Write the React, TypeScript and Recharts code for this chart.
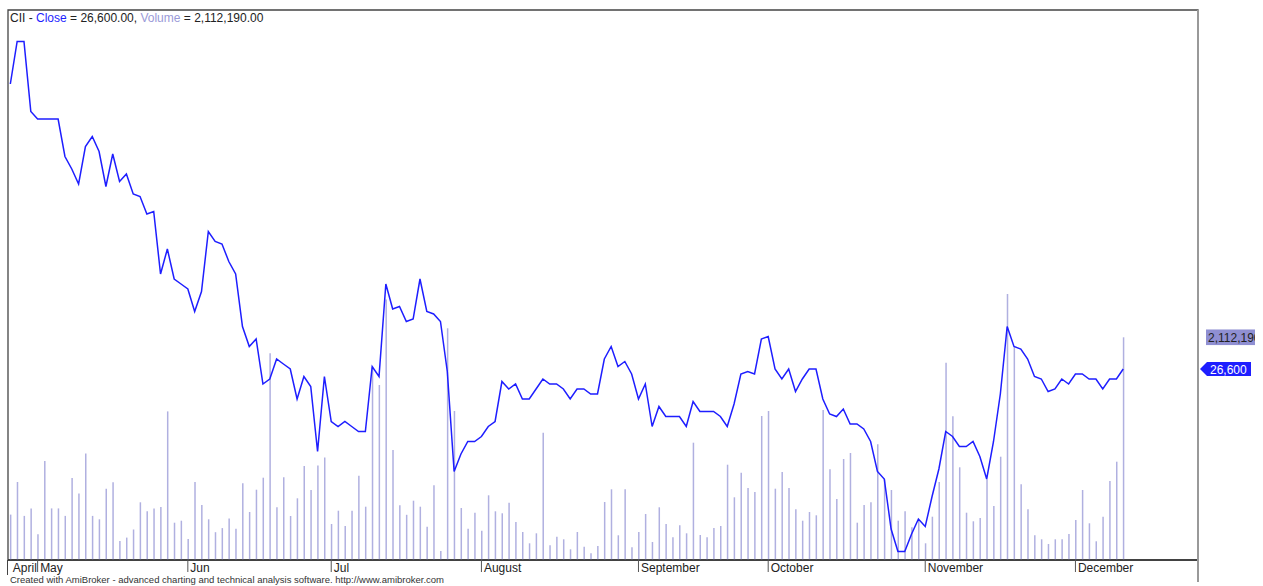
import React from 'react';
import { ComposedChart, Bar, Line, XAxis, YAxis, ReferenceArea, ReferenceDot } from 'recharts';

// daily closes (VND), April -> December
const closes = [
  38000, 39700, 39700, 36900, 36600, 36600, 36600, 36600, 35100, 34600,
  34000, 35500, 35900, 35300, 33900, 35200, 34100, 34400, 33600, 33500,
  32800, 32900, 30400, 31400, 30200, 30000, 29800, 28900, 29700, 32100,
  31700, 31600, 30900, 30400, 28300, 27500, 27800, 26000, 26200, 27000,
  26800, 26600, 25400, 26300, 25900, 23300, 26300, 24500, 24300, 24500,
  24300, 24100, 24100, 26700, 26300, 30000, 29000, 29100, 28500, 28600,
  30200, 28900, 28800, 28500, 26500, 22500, 23200, 23700, 23700, 23900,
  24300, 24500, 26100, 25800, 26000, 25400, 25400, 25800, 26200, 26000,
  26000, 25800, 25400, 25800, 25800, 25600, 25600, 27000, 27500, 26700,
  26900, 26400, 25400, 26000, 24300, 25100, 24700, 24700, 24700, 24300,
  25300, 24900, 24900, 24900, 24700, 24300, 25200, 26400, 26500, 26400,
  27800, 27900, 26600, 26200, 26600, 25700, 26200, 26600, 26600, 25400,
  24800, 24700, 25000, 24400, 24400, 24200, 23700, 22500, 22200, 20200,
  19300, 19300, 20000, 20600, 20300, 21500, 22600, 24100, 23900, 23500,
  23500, 23700, 23100, 22200, 23700, 25600, 28300, 27500, 27400, 27000,
  26300, 26200, 25700, 25800, 26200, 26000, 26400, 26400, 26200, 26200,
  25800, 26200, 26200, 26600,
];

const volumes = [
  430600, 739800, 418300, 489400, 244700, 940000, 489400, 489400, 418300, 778700,
  630800, 1010200, 418300, 386000, 675300, 737000, 180200, 212500, 289300, 547300,
  462900, 489400, 501800, 1409500, 353800, 372800, 199200, 739800, 520700, 386000,
  263700, 302600, 392700, 296900, 727500, 455300, 666800, 780600, 1960500, 499900,
  785400, 417300, 585200, 891600, 664000, 896300, 972200, 341500, 467600, 322500,
  467600, 799600, 505600, 1833500, 1659900, 2470000, 1043400, 518800, 428700, 562500,
  505600, 315900, 709500, 85400, 2197700, 1413300, 493200, 296900, 448600, 277900,
  613700, 461900, 443000, 543500, 360400, 265600, 158400, 253200, 1207400, 139400,
  221000, 196300, 101500, 265600, 126200, 63500, 132800, 550100, 670600, 234300,
  670600, 120500, 265600, 436300, 170700, 499900, 341500, 215300, 329100, 253200,
  1112600, 237100, 215300, 303500, 322500, 903900, 594700, 828000, 682900, 645000,
  1365800, 1413300, 676300, 834700, 682900, 480900, 372800, 455300, 424000, 1422800,
  860300, 578600, 958000, 1014900, 353800, 521700, 547300, 1097400, 765400, 664000,
  372800, 461900, 310200, 379400, 158400, 410700, 739800, 1871400, 1363000, 879300,
  448600, 367100, 398400, 765400, 512200, 979800, 2523000, 2023100, 718000, 480900,
  234300, 196300, 151800, 196300, 196300, 246600, 379400, 664000, 348100, 177400,
  410700, 749300, 932400, 2112190,
];

// first trading day of each month (bar index) and its label
const monthStarts = [0, 4, 26, 47, 69, 92, 111, 134, 156];
const monthLabels = ['April', 'May', 'Jun', 'Jul', 'August', 'September', 'October', 'November', 'December'];

const X_MIN = -0.34;
const X_MAX = 173.95;
const P_MIN = 18960;
const P_MAX = 40960;
const V_MAX = 5216400;

const data = closes.map((c, i) => ({ i, close: c, volume: volumes[i] }));
const lastClose = closes[closes.length - 1];
const lastVolume = volumes[volumes.length - 1];

const fmt = (n: number) => n.toLocaleString('en-US');

const MonthTick = (props: any) => {
  const { x, y, payload } = props;
  const idx = monthStarts.indexOf(payload.value);
  return (
    <g>
      {idx > 0 && <line x1={x} y1={y} x2={x} y2={y + 12} stroke="#555" strokeWidth={1} />}
      <text x={x + 2.5} y={y + 12} fontSize={12} fill="#222" textAnchor="start">
        {monthLabels[idx]}
      </text>
    </g>
  );
};

// last volume tag, clipped at the window edge like the original
const VolumeTag = (props: any) => {
  const { cx, cy } = props;
  return (
    <svg x={cx + 8} y={cy - 8} width={49} height={16} overflow="hidden">
      <rect x={0} y={0} width={49} height={16} fill="#8f8fd2" />
      <text x={2} y={12.5} fontSize={12} fill="#222">{fmt(lastVolume)}</text>
    </svg>
  );
};

const PriceTag = (props: any) => {
  const { cx, cy } = props;
  const pts = `${cx + 2},${cy} ${cx + 9},${cy - 7} ${cx + 53},${cy - 7} ${cx + 53},${cy + 7} ${cx + 9},${cy + 7}`;
  return (
    <g>
      <polygon points={pts} fill="#1e1eff" />
      <text x={cx + 12} y={cy + 4.5} fontSize={12} fill="#fff">{fmt(lastClose)}</text>
    </g>
  );
};

export default function App() {
  return (
    <div
      style={{
        position: 'absolute',
        left: 0,
        top: 0,
        width: 1263,
        height: 586,
        background: '#fff',
        fontFamily: 'Arial, "Liberation Sans", sans-serif',
        overflow: 'hidden',
      }}
    >
      <ComposedChart
        width={1263}
        height={586}
        data={data}
        margin={{ top: 10, right: 65, bottom: 0, left: 8 }}
      >
        <XAxis
          dataKey="i"
          type="number"
          domain={[X_MIN, X_MAX]}
          allowDataOverflow
          ticks={monthStarts}
          interval={0}
          tick={<MonthTick />}
          tickSize={0}
          tickMargin={0}
          height={26}
          axisLine={{ stroke: '#333', strokeWidth: 1.5 }}
        />
        <YAxis yAxisId="p" hide domain={[P_MIN, P_MAX]} allowDataOverflow />
        <YAxis yAxisId="v" hide domain={[0, V_MAX]} allowDataOverflow />
        <ReferenceArea
          yAxisId="p"
          x1={X_MIN}
          x2={X_MAX}
          y1={P_MIN}
          y2={P_MAX}
          fill="none"
          stroke="#444"
          strokeWidth={1.3}
          ifOverflow="visible"
        />
        <Bar
          yAxisId="v"
          dataKey="volume"
          barSize={1.5}
          fill="#b0b0e0"
          isAnimationActive={false}
        />
        <Line
          yAxisId="p"
          dataKey="close"
          type="linear"
          stroke="#1e1eff"
          strokeWidth={1.5}
          dot={false}
          activeDot={false}
          isAnimationActive={false}
        />
        <ReferenceDot yAxisId="v" x={X_MAX} y={lastVolume} r={0} ifOverflow="visible" shape={<VolumeTag />} />
        <ReferenceDot yAxisId="p" x={X_MAX} y={lastClose} r={0} ifOverflow="visible" shape={<PriceTag />} />
      </ComposedChart>

      <div style={{ position: 'absolute', left: 7, top: 560, width: 1.3, height: 15, background: '#444' }} />
      <div style={{ position: 'absolute', left: 1197, top: 10, width: 1.5, height: 572, background: '#999' }} />

      <div style={{ position: 'absolute', left: 10, top: 11, fontSize: 12, lineHeight: '14px', color: '#222', whiteSpace: 'nowrap' }}>
        CII - <span style={{ color: '#1e1eff' }}>Close</span> = {fmt(lastClose)}.00,{' '}
        <span style={{ color: '#9a9ad8' }}>Volume</span> = {fmt(lastVolume)}.00
      </div>

      <div style={{ position: 'absolute', left: 10, top: 574, fontSize: 9.5, lineHeight: '11px', color: '#333', whiteSpace: 'nowrap' }}>
        Created with AmiBroker - advanced charting and technical analysis software. http://www.amibroker.com
      </div>
    </div>
  );
}
